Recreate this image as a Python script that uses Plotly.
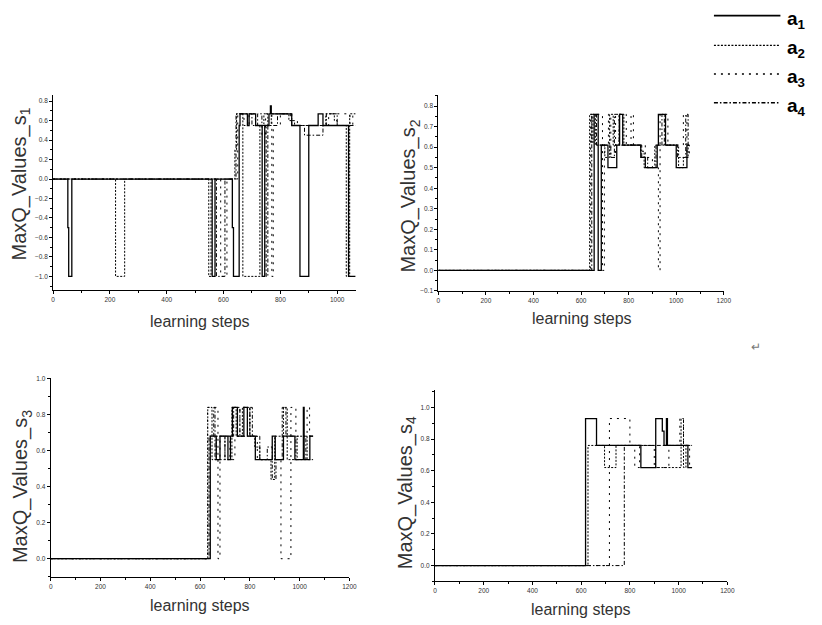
import plotly.graph_objects as go

# ---------------- data (step series: value holds from x[i] to x[i+1]) ----------------
SERIES_NAMES = ["a1", "a2", "a3", "a4"]
X_TICKS = [0, 200, 400, 600, 800, 1000, 1200]

# panel 1 : MaxQ_Values_s1
P1_A1_X = [0, 52, 55, 66, 560, 570, 631, 635, 655, 658, 684, 690, 713, 736, 745, 760, 765, 768, 840, 869, 900, 933, 950, 979, 1040, 1065]
P1_A1_Y = [0, -0.5, -1, 0, -1, 0, -0.5, -1, 0.55, 0.67, 0.55, 0.67, 0.55, -1, 0.55, 0.67, 0.75, 0.67, 0.55, -1, 0.55, 0.67, 0.55, 0.55, -1, -1]
P1_A2_X = [0, 220, 252, 548, 556, 640, 646, 668, 728, 742, 756, 768, 830, 850, 960, 990, 1000, 1032, 1044, 1065]
P1_A2_Y = [0, -1, 0, -1, 0, 0.3, 0.67, -1, 0.55, 0.67, 0.55, 0.67, 0.6, 0.55, 0.67, 0.6, 0.55, -1, 0.67, 0.67]
P1_A3_X = [0, 590, 612, 650, 672, 690, 712, 735, 748, 770, 775, 800, 835, 860, 970, 1045, 1055, 1065]
P1_A3_Y = [0, -1, 0, 0.67, 0.55, 0.67, 0.55, 0.45, 0.67, -1, 0.55, 0.67, 0.6, 0.55, 0.67, 0.55, 0.67, 0.67]
P1_A4_X = [0, 575, 605, 644, 700, 720, 735, 750, 756, 790, 840, 885, 950, 962, 1000, 1065]
P1_A4_Y = [0, -1, 0, 0.67, 0.55, 0.67, 0.55, -1, 0.55, 0.67, 0.55, 0.45, 0.55, 0.67, 0.55, 0.55]

# panel 2 : MaxQ_Values_s2
P2_A1_X = [0, 655, 672, 685, 713, 750, 762, 775, 851, 870, 920, 925, 955, 1000, 1045, 1055]
P2_A1_Y = [0, 0.76, 0, 0.61, 0.5, 0.61, 0.76, 0.61, 0.55, 0.5, 0.61, 0.76, 0.61, 0.5, 0.61, 0.61]
P2_A2_X = [0, 636, 645, 650, 660, 700, 720, 735, 760, 780, 850, 865, 910, 1010, 1030, 1050, 1055]
P2_A2_Y = [0, 0.76, 0.62, 0.76, 0.61, 0.55, 0.76, 0.61, 0.76, 0.61, 0.58, 0.5, 0.61, 0.5, 0.55, 0.61, 0.61]
P2_A3_X = [0, 640, 690, 698, 715, 725, 745, 790, 810, 820, 870, 900, 925, 932, 965, 1030, 1045, 1055]
P2_A3_Y = [0, 0.76, 0, 0.61, 0.76, 0.55, 0.76, 0.61, 0.76, 0.61, 0.55, 0.5, 0, 0.76, 0.61, 0.76, 0.55, 0.61]
P2_A4_X = [0, 645, 665, 725, 740, 760, 855, 880, 915, 940, 950, 1005, 1040, 1050, 1055]
P2_A4_Y = [0, 0.76, 0.61, 0.55, 0.76, 0.61, 0.55, 0.5, 0.61, 0.76, 0.61, 0.55, 0.76, 0.61, 0.61]

# panel 3 : MaxQ_Values_s3
P3_A1_X = [0, 641, 665, 680, 712, 722, 730, 750, 776, 790, 822, 890, 902, 935, 981, 1015, 1018, 1041, 1054]
P3_A1_Y = [0, 0.68, 0.55, 0.68, 0.55, 0.68, 0.84, 0.68, 0.84, 0.68, 0.55, 0.68, 0.55, 0.68, 0.55, 0.84, 0.55, 0.68, 0.68]
P3_A2_X = [0, 631, 648, 665, 700, 728, 745, 770, 800, 820, 840, 885, 900, 935, 950, 990, 1030, 1054]
P3_A2_Y = [0, 0.84, 0.55, 0.68, 0.55, 0.84, 0.68, 0.84, 0.68, 0.62, 0.55, 0.44, 0.68, 0.84, 0.55, 0.68, 0.55, 0.55]
P3_A3_X = [0, 630, 672, 680, 720, 740, 760, 800, 830, 925, 965, 985, 1030, 1040, 1054]
P3_A3_Y = [0, 0.84, 0, 0.68, 0.55, 0.68, 0.84, 0.68, 0.55, 0, 0.84, 0.68, 0.84, 0.68, 0.68]
P3_A4_X = [0, 636, 655, 660, 700, 735, 760, 800, 810, 840, 870, 890, 905, 930, 945, 985, 1025, 1054]
P3_A4_Y = [0, 0.68, 0.84, 0.55, 0.68, 0.84, 0.68, 0.84, 0.68, 0.55, 0.62, 0.44, 0.55, 0.84, 0.68, 0.55, 0.68, 0.68]

# panel 4 : MaxQ_Values_s4
P4_A1_X = [0, 618, 663, 845, 906, 933, 940, 950, 954, 1038, 1055]
P4_A1_Y = [0, 0.93, 0.76, 0.62, 0.93, 0.85, 0.76, 0.93, 0.76, 0.62, 0.62]
P4_A2_X = [0, 628, 696, 743, 905, 1010, 1020, 1030, 1055]
P4_A2_Y = [0, 0.76, 0.62, 0.76, 0.62, 0.93, 0.62, 0.76, 0.76]
P4_A3_X = [0, 716, 800, 820, 840, 900, 960, 1005, 1020, 1045, 1055]
P4_A3_Y = [0, 0.93, 0.76, 0.62, 0.76, 0.62, 0.76, 0.93, 0.76, 0.62, 0.62]
P4_A4_X = [0, 777, 1055]
P4_A4_Y = [0, 0.76, 0.76]

PANELS = [
    [(P1_A1_X, P1_A1_Y), (P1_A2_X, P1_A2_Y), (P1_A3_X, P1_A3_Y), (P1_A4_X, P1_A4_Y)],
    [(P2_A1_X, P2_A1_Y), (P2_A2_X, P2_A2_Y), (P2_A3_X, P2_A3_Y), (P2_A4_X, P2_A4_Y)],
    [(P3_A1_X, P3_A1_Y), (P3_A2_X, P3_A2_Y), (P3_A3_X, P3_A3_Y), (P3_A4_X, P3_A4_Y)],
    [(P4_A1_X, P4_A1_Y), (P4_A2_X, P4_A2_Y), (P4_A3_X, P4_A3_Y), (P4_A4_X, P4_A4_Y)],
]
Y_TITLES = ["MaxQ_Values_s<sub>1</sub>", "MaxQ_Values_s<sub>2</sub>",
            "MaxQ_Values_s<sub>3</sub>", "MaxQ_Values_s<sub>4</sub>"]
X_TITLE = "learning steps"

# ---------------- styling / layout ----------------
W, H = 822, 625
def px_x(p): return p / W
def px_y(p): return 1 - p / H

DASHES = ["solid", "2px,1.5px", "2px,5px", "4px,2px,1.5px,2px"]
WIDTHS = [1.3, 1.0, 1.0, 1.0]

# (x0px, x1px, ytop px, ybottom px, xrange, yrange, ydtick, yminor)
GEOM = [
    (51.7, 358.0, 93.0, 290.0, [0, 1065], [-1.142, 0.862], 0.2, 0.1),
    (441.7, 730.7, 92.7, 290.7, [0, 1200], [-0.1, 0.855], 0.1, 0.05),
    (49.3, 351.7, 378.3, 579.3, [0, 1200], [-0.1, 1.005], 0.2, 0.1),
    (438.3, 734.3, 391.0, 584.0, [0, 1200], [-0.1, 1.109], 0.2, 0.1),
]
XTITLE_POS = [(200, 322), (587.5, 319), (200, 608), (586, 612)]
YTITLE_POS = [(18.5, 183), (412.5, 195), (20, 488), (409, 495)]

fig = go.Figure()
layout = dict(width=W, height=H, autosize=False,
              margin=dict(l=0, r=0, t=0, b=0),
              paper_bgcolor="white", plot_bgcolor="white",
              showlegend=False, font=dict(family="Liberation Sans, Arial", color="#333"))
annotations = []
shapes = []

tick_font = dict(family="Liberation Sans, Arial", size=6.5, color="#333")

for i, (series, g) in enumerate(zip(PANELS, GEOM)):
    x0, x1, yt, yb, xr, yr, ydt, ymin = g
    sfx = "" if i == 0 else str(i + 1)
    for k, (xs, ys) in enumerate(series):
        fig.add_trace(go.Scatter(x=xs, y=ys, mode="lines", line_shape="hv",
                                 name=SERIES_NAMES[k],
                                 line=dict(color="black", width=WIDTHS[k], dash=DASHES[k]),
                                 xaxis="x" + sfx, yaxis="y" + sfx, hoverinfo="skip"))
    layout["xaxis" + sfx] = dict(domain=[px_x(x0), px_x(x1)], range=xr, anchor="y" + sfx,
                                 tickmode="array", tickvals=X_TICKS,
                                 ticks="outside", ticklen=3, tickwidth=1, tickcolor="black",
                                 minor=dict(dtick=100, tick0=0, ticks="outside", ticklen=2,
                                            tickcolor="black"),
                                 showline=True, linecolor="black", linewidth=1,
                                 showgrid=False, zeroline=False, tickfont=tick_font)
    layout["yaxis" + sfx] = dict(domain=[px_y(yb), px_y(yt)], range=yr, anchor="x" + sfx,
                                 tick0=0, dtick=ydt, tickformat=".1f",
                                 ticks="outside", ticklen=3, tickwidth=1, tickcolor="black",
                                 minor=dict(dtick=ymin, ticks="outside", ticklen=2,
                                            tickcolor="black"),
                                 showline=True, linecolor="black", linewidth=1,
                                 showgrid=False, zeroline=False, tickfont=tick_font)
    annotations.append(dict(text=X_TITLE, x=px_x(XTITLE_POS[i][0]), y=px_y(XTITLE_POS[i][1]),
                            xref="paper", yref="paper", showarrow=False,
                            xanchor="center", yanchor="middle",
                            font=dict(size=16, color="#333")))
    annotations.append(dict(text=Y_TITLES[i], x=px_x(YTITLE_POS[i][0]), y=px_y(YTITLE_POS[i][1]),
                            xref="paper", yref="paper", showarrow=False, textangle=-90,
                            xanchor="center", yanchor="middle",
                            font=dict(size=20, color="#333")))

# manual legend (long line samples)
LEG_Y = [12.7, 42.7, 71.7, 100.7]
for k in range(4):
    shapes.append(dict(type="line", xref="paper", yref="paper",
                       x0=px_x(720.7), x1=px_x(788), y0=px_y(LEG_Y[k]), y1=px_y(LEG_Y[k]),
                       line=dict(color="black", width=WIDTHS[k] + 0.3, dash=DASHES[k])))
    annotations.append(dict(text="a<sub>%d</sub>" % (k + 1),
                            x=px_x(793), y=px_y(LEG_Y[k] + 4), xref="paper", yref="paper",
                            showarrow=False, xanchor="left", yanchor="middle",
                            font=dict(size=19, color="black", weight="bold")))

# document return mark
annotations.append(dict(text="↵", x=px_x(763), y=px_y(347), xref="paper", yref="paper",
                        showarrow=False, xanchor="center", yanchor="middle",
                        font=dict(size=12, color="#777")))

layout["annotations"] = annotations
layout["shapes"] = shapes
fig.update_layout(**layout)
fig.write_html("out.html", config={"displayModeBar": False},
               post_script="document.body.style.margin='0px';document.body.style.overflow='hidden';")
